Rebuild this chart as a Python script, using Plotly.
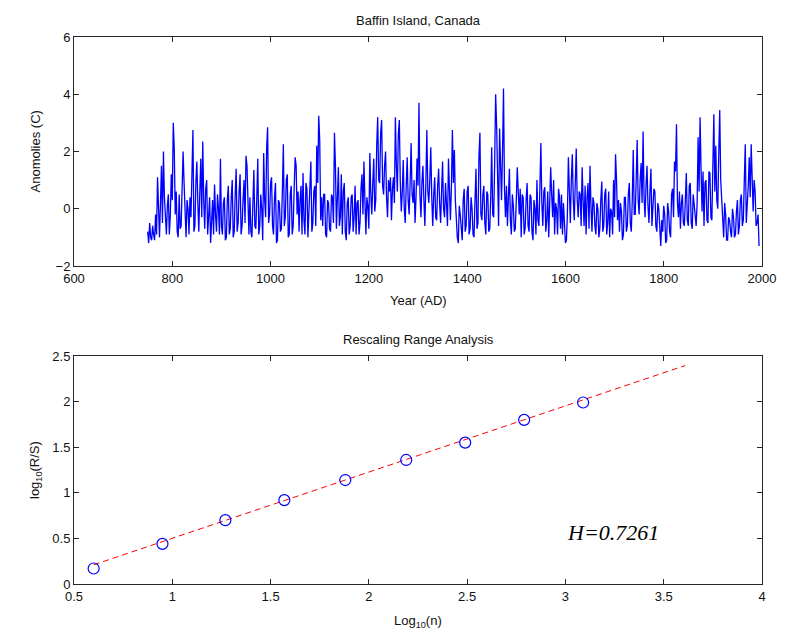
import plotly.graph_objects as go

# ---------------- data ----------------
# Anomalies read every 4 years (750, 754, ...) and the values in between (752, 756, ...)
start_year = 750
year_step = 4
anomaly_750_954 = [
    -0.8, -0.5, -1.1, -0.9, -0.2, 1.1, -1.0, 1.5, 2.0, -0.6,
    0.1, -0.9, 1.2, 3.0, -0.2, -0.8, 0.5, -0.6, 2.0, -0.4,
    0.3, -0.9, -0.3, 2.75, -0.6, 1.65, -0.8, 1.75, 2.35, -0.7,
    1.0, -0.4, -1.2, 0.3, 0.85, -0.8, 0.0, 1.75, -0.9, 0.4,
    -1.0, 0.8, -0.7, 1.0, -0.8, 1.4, -0.5, 1.2, -0.6, 1.0,
    1.85, -0.4,
]
anomaly_mid_752_956 = [
    -1.2, -1.0, -0.6, -1.1, -0.9, -0.3, 0.2, -0.5, 0.4, -0.9,
    0.5, -0.2, 0.3, 2.1, 0.6, -1.0, -0.7, 0.8, 0.9, -1.0,
    0.0, 0.4, 1.0, -0.8, 0.9, 0.2, 0.6, -0.3, 0.3, 0.7,
    -0.9, 0.4, -0.5, -0.9, -0.2, 0.5, -0.9, -0.6, 0.2, -1.1,
    0.3, -0.9, 0.4, -1.0, 0.5, -0.8, 0.6, -0.9, 0.3, -0.5,
    1.5, -0.9,
]
anomaly_958_1166 = [
    0.4, -1.0, 1.35, -0.7, 1.75, -0.6, 0.0, 1.95, -0.3, 2.85,
    -0.2, 1.1, -0.9, 0.9, -1.1, 0.2, -0.7, 2.25, -0.3, 1.2,
    -0.9, 0.8, -0.6, 1.8, -0.2, -0.8, 0.8, 1.25, -0.9, 0.7,
    -0.2, 1.65, -0.5, 0.8, 2.2, 3.25, -0.4, -0.6, 0.5, -1.0,
    0.2, -0.8, 0.4, 2.65, -0.7, 1.45, -0.3, -0.9, 0.9, -1.1,
    0.4, -0.6, 0.5,
]
anomaly_mid_960_1168 = [
    -0.8, 0.2, -0.6, 0.4, -0.9, 0.5, -1.1, 0.3, 2.1, -0.5,
    0.9, -0.6, 0.4, -1.2, 0.3, -0.8, 0.6, -0.6, 1.0, -1.0,
    0.5, -0.9, 0.7, 1.5, 0.6, 0.3, -0.9, -0.4, 0.9, -1.0,
    0.5, -0.8, 0.6, -0.6, 0.9, 2.4, 0.4, 0.5, -0.9, 0.3,
    -0.7, 0.5, -0.5, 1.5, 0.4, -0.6, 1.2, 0.6, -0.8, 0.2,
    -0.9, 0.4, -0.8,
]
anomaly_1170_1378 = [
    -0.3, -0.9, 0.3, -0.5, 1.2, 1.65, -0.9, 0.1, 1.95, -0.2,
    1.75, 0.3, 3.2, 0.9, 3.1, 0.5, 2.0, -0.3, 0.6, -0.4,
    1.1, 3.2, 0.6, 3.1, -0.1, 1.7, -0.5, 1.8, -0.2, 2.3,
    0.2, -0.5, 1.75, 3.7, -0.3, 1.5, -0.6, 2.75, 0.2, 2.15,
    -0.6, 1.1, -0.4, 1.4, -0.5, 1.65, -0.3, 0.3, 1.75, -0.4,
    2.75, 2.05, -0.6,
]
anomaly_mid_1172_1380 = [
    0.8, 0.2, -0.9, 0.7, -0.2, 0.3, 0.4, -0.7, 0.5, 0.9,
    -0.1, 2.2, 1.0, 2.65, 0.8, 1.5, 0.4, 1.0, 1.1, 0.7,
    0.2, 1.5, 2.6, 0.9, 0.6, 0.0, 0.8, 0.3, 0.9, 0.5,
    1.0, 0.4, 0.8, 0.5, 0.9, 0.3, 0.9, 0.6, 1.0, 0.4,
    0.5, -0.3, 0.8, 0.2, 0.6, 0.0, 0.9, -0.6, 0.2, 0.8,
    0.9, 0.3, -1.0,
]
anomaly_1382_1590 = [
    -1.2, -0.2, -1.1, 0.7, -0.6, 0.8, -0.7, 0.0, -1.0, 1.4,
    -0.5, 2.65, -0.4, 0.8, -0.9, 0.5, -0.7, 2.15, -0.3, 4.0,
    0.5, 2.8, 0.3, 4.2, -0.3, -0.6, 1.4, -0.9, 0.1, -0.7,
    1.45, -0.2, -1.0, 0.4, -0.7, 0.9, -0.8, 0.4, -1.1, 0.0,
    1.0, -0.6, 2.3, -0.6, 0.75, -0.4, -1.0, 1.45, -0.3, -0.9,
    0.0, 0.7, -0.7,
]
anomaly_mid_1384_1592 = [
    0.1, -0.9, 0.3, -0.8, 0.6, -0.9, 0.4, -0.9, 0.3, -0.7,
    1.8, -0.2, 0.5, -0.5, 0.6, -0.8, 0.4, -0.2, 1.6, 2.9,
    -0.6, 1.1, 2.0, 0.7, 0.8, 0.4, -0.4, 0.5, -0.8, 0.3,
    0.6, 0.7, 0.5, -0.9, 0.3, -0.6, 0.5, -0.8, 0.3, -0.9,
    -0.4, 0.7, 0.2, 0.6, -0.8, 0.6, 0.2, 0.5, 1.0, 0.2,
    -0.9, 0.4, 0.5,
]
anomaly_1594_1794 = [
    -0.9, -0.6, -1.1, 1.8, -0.5, 1.9, -0.4, 2.1, -0.3, 0.5,
    1.45, -0.6, -0.9, 0.9, 1.5, -0.8, 0.2, -0.9, 0.0, -0.7,
    0.95, -0.6, 0.7, -0.5, -1.0, -0.1, 1.0, 1.9, -0.4, -0.8,
    -0.1, -0.9, 0.4, -0.6, 0.9, -0.8, 2.05, -0.2, 2.4, -0.2,
    1.6, 2.7, -0.3, 1.5, -0.5, 1.4, 0.0, 0.6, -0.8, 0.0,
    -1.3,
]
anomaly_mid_1596_1796 = [
    0.2, -1.2, -0.2, 0.4, 1.0, 0.3, 0.9, 0.3, 0.6, -0.6,
    0.3, 0.8, 0.4, -0.7, 0.1, 0.4, -0.6, 0.2, -1.0, 0.3,
    -0.8, 0.5, -0.9, 0.6, 0.0, -0.9, -0.3, 1.0, 0.3, 0.2,
    -1.1, 0.4, -0.8, 0.5, -0.5, 0.3, -0.2, 1.0, 0.3, 1.0,
    0.2, 0.4, 0.8, 0.1, 0.6, -0.6, 0.7, -0.6, 0.2, -0.9,
    -0.4,
]
anomaly_1798_1994 = [
    -0.8, -0.2, -1.1, -0.1, -1.0, 0.7, 1.65, 2.95, -0.3, -0.7,
    0.5, -0.6, 1.25, -0.6, 0.9, -0.7, 0.1, -0.6, 2.5, 3.2,
    -0.1, -0.6, 1.0, -0.5, 1.25, -0.4, 3.3, 2.2, 0.0, 3.45,
    0.4, -1.0, -0.2, -1.1, -0.4, -1.0, -0.3, -0.9, 0.3, -0.6,
    0.5, -0.4, 2.25, 0.0, 1.8, 2.25, -0.1, 0.6, -0.5, -1.3,
]
anomaly_mid_1800_1992 = [
    0.1, -1.2, 0.2, -0.8, 0.5, -0.3, 1.3, 0.2, 0.6, 0.2,
    -0.5, 0.3, -0.4, 0.8, -0.5, 0.5, -0.5, 0.2, 0.6, 1.4,
    1.3, 0.9, -0.4, 1.3, -0.3, 1.5, 0.6, 0.3, 1.9, 1.0,
    -0.4, 0.2, -1.1, -0.3, -0.8, 0.0, -1.0, -0.1, -0.9, 0.3,
    -0.6, 1.0, -0.5, 0.8, 0.4, 0.5, 1.0, -0.6, -0.2,
]

anomaly_main = (anomaly_750_954 + anomaly_958_1166 + anomaly_1170_1378
                + anomaly_1382_1590 + anomaly_1594_1794 + anomaly_1798_1994)
anomaly_mid = (anomaly_mid_752_956 + anomaly_mid_960_1168 + anomaly_mid_1172_1380
               + anomaly_mid_1384_1592 + anomaly_mid_1596_1796 + anomaly_mid_1800_1992)

years, anomalies = [], []
for i, v in enumerate(anomaly_main):
    y0 = start_year + year_step * i
    years.append(y0)
    anomalies.append(v)
    if i < len(anomaly_mid):
        years.append(y0 + year_step // 2)
        anomalies.append(anomaly_mid[i])

log_n = [0.60, 0.95, 1.27, 1.57, 1.88, 2.19, 2.49, 2.79, 3.09]
log_rs = [0.17, 0.44, 0.70, 0.92, 1.14, 1.36, 1.55, 1.80, 1.99]
hurst = 0.7261
fit_intercept = -0.225
fit_x = [0.60, 3.61]
fit_y = [fit_intercept + hurst * x for x in fit_x]

top_xticks = [600, 800, 1000, 1200, 1400, 1600, 1800, 2000]
top_yticks = [-2, 0, 2, 4, 6]
bot_xticks = [0.5, 1, 1.5, 2, 2.5, 3, 3.5, 4]
bot_yticks = [0, 0.5, 1, 1.5, 2, 2.5]

# ---------------- figure ----------------
FONT = "Liberation Sans"
fig = go.Figure()
fig.add_trace(go.Scatter(x=years, y=anomalies, mode="lines",
                         line=dict(color="#0000FF", width=1.3),
                         xaxis="x", yaxis="y", showlegend=False))
fig.add_trace(go.Scatter(x=fit_x, y=fit_y, mode="lines",
                         line=dict(color="#FF0000", width=1, dash="6px,4px"),
                         xaxis="x2", yaxis="y2", showlegend=False))
fig.add_trace(go.Scatter(x=log_n, y=log_rs, mode="markers",
                         marker=dict(symbol="circle-open", size=11,
                                     color="#0000FF", line=dict(width=1.2, color="#0000FF")),
                         xaxis="x2", yaxis="y2", showlegend=False))

axis_common = dict(showgrid=False, zeroline=False, showline=True,
                   linecolor="#262626", linewidth=1, mirror="ticks",
                   ticks="inside", ticklen=5, tickcolor="#262626", tickwidth=1,
                   tickfont=dict(family=FONT, size=13, color="#111111"))

top_dom = [0.5814, 1.0]
bot_dom = [0.0, 0.4168]

fig.update_layout(
    width=788, height=632,
    margin=dict(l=74, r=20, t=37, b=48),
    plot_bgcolor="white", paper_bgcolor="white",
    xaxis=dict(domain=[0, 1], anchor="y", range=[600, 2000],
               tickvals=top_xticks, **axis_common),
    yaxis=dict(domain=top_dom, anchor="x", range=[-2, 6],
               tickvals=top_yticks, **axis_common),
    xaxis2=dict(domain=[0, 1], anchor="y2", range=[0.5, 4],
                tickvals=bot_xticks, **axis_common),
    yaxis2=dict(domain=bot_dom, anchor="x2", range=[0, 2.5],
                tickvals=bot_yticks, **axis_common),
)

lab = dict(family=FONT, size=13, color="#111111")
annos = [
    dict(text="Baffin Island, Canada", xref="x domain", yref="y domain",
         x=0.5, y=1, yanchor="bottom", yshift=7, showarrow=False, font=lab),
    dict(text="Year (AD)", xref="x domain", yref="y domain",
         x=0.5, y=0, yanchor="middle", yshift=-35, showarrow=False, font=lab),
    dict(text="Anomolies (C)", xref="x domain", yref="y domain",
         x=0, y=0.5, xanchor="center", xshift=-39, textangle=-90,
         showarrow=False, font=lab),
    dict(text="Rescaling Range Analysis", xref="x2 domain", yref="y2 domain",
         x=0.5, y=1, yanchor="bottom", yshift=7, showarrow=False, font=lab),
    dict(text="Log<sub>10</sub>(n)", xref="x2 domain", yref="y2 domain",
         x=0.5, y=0, yanchor="top", yshift=-27, showarrow=False, font=lab),
    dict(text="log<sub>10</sub>(R/S)", xref="x2 domain", yref="y2 domain",
         x=0, y=0.5, xanchor="center", xshift=-39, textangle=-90,
         showarrow=False, font=lab),
    dict(text="H=0.7261", xref="x2", yref="y2", x=3.0, y=0.56,
         xanchor="left", yanchor="middle", showarrow=False,
         font=dict(family="Liberation Serif", size=22, color="black", style="italic")),
]
fig.update_layout(annotations=annos)

fig.write_html("out.html")
